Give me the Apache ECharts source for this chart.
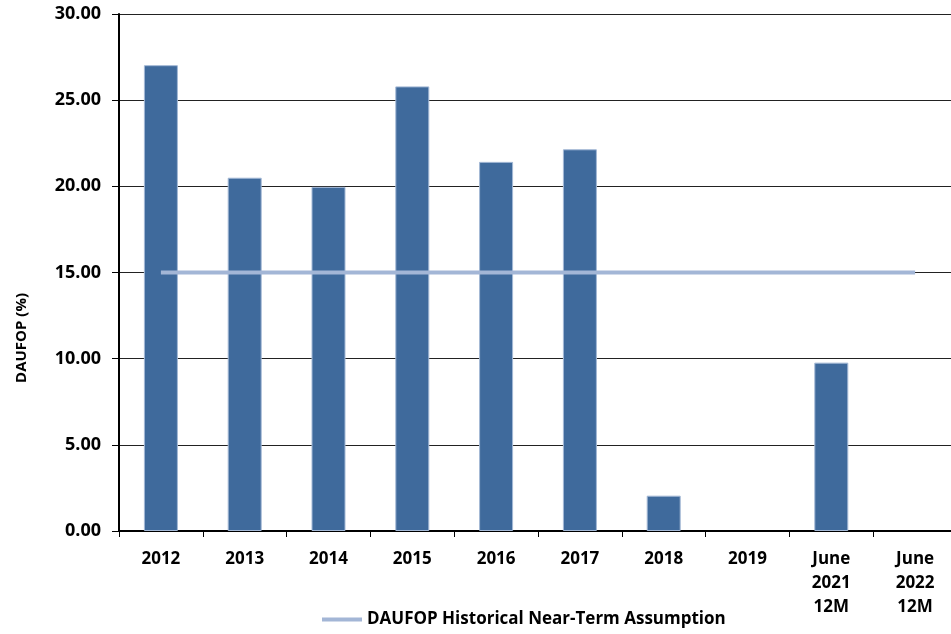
<!DOCTYPE html>
<html><head><meta charset="utf-8">
<script src="https://cdn.jsdelivr.net/npm/echarts@6/dist/echarts.min.js"></script>
<style>html,body{margin:0;padding:0;background:#fff;overflow:hidden;width:951px;height:634px}#c{width:957px;height:634px}</style>
</head><body><div id="c"></div>
<script>
const categories = ['2012','2013','2014','2015','2016','2017','2018','2019','June\n2021\n12M','June\n2022\n12M'];
const dauFop = [27.03, 20.5, 19.97, 25.8, 21.42, 22.15, 2.05, 0, 9.77, 0];
const assumption = [15, 15, 15, 15, 15, 15, 15, 15, 15, 15];
const yTicks = { min: 0, max: 30, interval: 5 };
const yName = 'DAUFOP (%)';
const F = '"Open Sans", sans-serif';
const chart = echarts.init(document.getElementById('c'));
chart.setOption({
  animation: false,
  grid: { left: 119, right: 0, top: 14, bottom: 103, containLabel: false },
  legend: {
    top: 611, left: 322, padding: 0, itemWidth: 40, itemHeight: 4, itemGap: 4,
    icon: 'rect',
    textStyle: { fontFamily: F, fontWeight: 'bold', fontSize: 17, color: '#000' },
    data: [{ name: 'DAUFOP Historical Near-Term Assumption' }]
  },
  graphic: [{
    type: 'text', x: 22, y: 338, rotation: Math.PI / 2,
    style: { text: yName, fontFamily: F, fontWeight: 'bold', fontSize: 15, fill: '#000',
      align: 'center', verticalAlign: 'middle' }
  }],
  xAxis: {
    type: 'category', data: categories,
    axisLine: { lineStyle: { color: '#000', width: 2 } },
    axisTick: { show: true, length: 6, lineStyle: { color: '#000' } },
    axisLabel: { fontFamily: F, fontWeight: 'bold', fontSize: 17, color: '#000', margin: 16, lineHeight: 24, interval: 0 }
  },
  yAxis: {
    type: 'value', min: yTicks.min, max: yTicks.max, interval: yTicks.interval,
    axisLine: { show: true, lineStyle: { color: '#000', width: 2 } },
    axisTick: { show: true, length: 7, lineStyle: { color: '#000' } },
    splitLine: { lineStyle: { color: '#222', width: 1 } },
    axisLabel: { fontFamily: F, fontWeight: 'bold', fontSize: 18, color: '#000', margin: 18,
      formatter: v => v.toFixed(2) }
  },
  series: [
    { name: 'DAUFOP', type: 'bar', data: dauFop.map(v => v === 0 ? null : v), barWidth: 34,
      itemStyle: { color: '#3f6a9c', borderColor: '#a4b9d6', borderWidth: 1 } },
    { name: 'DAUFOP Historical Near-Term Assumption', type: 'line', data: assumption,
      symbol: 'none', lineStyle: { color: '#a3b6d6', width: 4 }, itemStyle: { color: '#a3b6d6' } }
  ]
});
</script></body></html>
